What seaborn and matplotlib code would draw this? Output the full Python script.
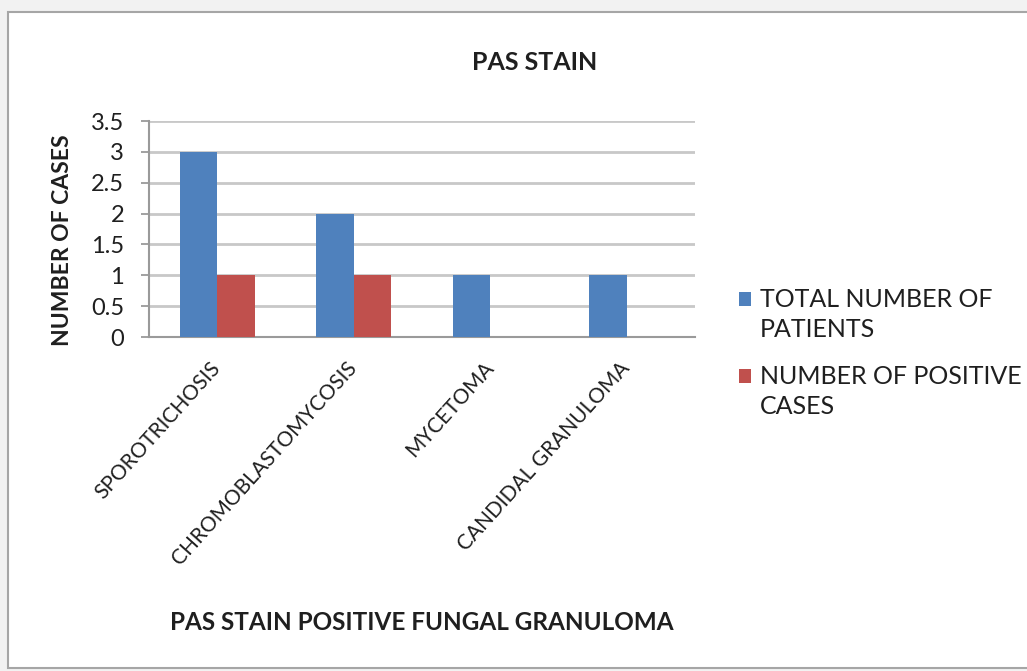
import matplotlib
matplotlib.use("Agg")
import matplotlib.pyplot as plt
from matplotlib.patches import Rectangle
from matplotlib.legend_handler import HandlerPatch
import seaborn as sns
import pandas as pd

# Data
diseases = ["SPOROTRICHOSIS", "CHROMOBLASTOMYCOSIS", "MYCETOMA", "CANDIDAL GRANULOMA"]
total_patients = [3, 2, 1, 1]
positive_cases = [1, 1, 0, 0]
series_names = ["TOTAL NUMBER OF PATIENTS", "NUMBER OF POSITIVE CASES"]
legend_labels = ["TOTAL NUMBER OF\nPATIENTS", "NUMBER OF POSITIVE\nCASES"]
y_ticks = [0, 0.5, 1, 1.5, 2, 2.5, 3, 3.5]
y_tick_labels = ["0", "0.5", "1", "1.5", "2", "2.5", "3", "3.5"]

df = pd.DataFrame({
    "disease": diseases * 2,
    "series": [series_names[0]] * len(diseases) + [series_names[1]] * len(diseases),
    "count": total_patients + positive_cases,
})

sns.set_theme(style="white")
plt.rcParams["font.family"] = ["Lato", "DejaVu Sans"]

TEXT = "#1f1f1f"
BLUE = "#4F81BD"
RED = "#C0504D"
LEGEND_SIZE = 18

fig = plt.figure(figsize=(10.27, 6.71), dpi=100)
fig.patch.set_facecolor("#f2f2f2")
# white chart area with a thin frame
frame = Rectangle((8 / 1027, 3 / 671), 1.2, 1 - 15 / 671,
                  transform=fig.transFigure, facecolor="white",
                  edgecolor="#a6a6a6", linewidth=1.5, zorder=-10)
fig.patches.append(frame)

ax = fig.add_axes([149 / 1027, 1 - 337 / 671, (695 - 149) / 1027, (337 - 121) / 671])
ax.set_facecolor("none")

sns.barplot(data=df, x="disease", y="count", hue="series", hue_order=series_names,
            palette=[BLUE, RED], width=0.55, saturation=1, linewidth=0,
            ax=ax, zorder=3)

ax.set_ylim(0, 3.5)
ax.set_yticks(y_ticks)
ax.set_yticklabels(y_tick_labels)
ax.yaxis.grid(True, color="#c8c8c8", linewidth=2.0, zorder=0)
ax.set_axisbelow(True)
for s in ["top", "right"]:
    ax.spines[s].set_visible(False)
ax.spines["left"].set_color("#9a9a9a")
ax.spines["bottom"].set_color("#9a9a9a")
ax.spines["left"].set_linewidth(1.5)
ax.spines["bottom"].set_linewidth(1.5)
ax.tick_params(axis="y", which="major", left=True, length=6, width=1.3,
               color="#9a9a9a", labelsize=17, labelcolor=TEXT, pad=12)
ax.tick_params(axis="x", bottom=False, labelsize=15, labelcolor=TEXT, pad=14)
for lbl in ax.get_xticklabels():
    lbl.set_rotation(48)
    lbl.set_ha("right")
    lbl.set_va("center")
    lbl.set_rotation_mode("anchor")

ax.set_xlabel("PAS STAIN POSITIVE FUNGAL GRANULOMA", fontsize=17.5, fontweight="bold",
              color=TEXT, labelpad=30)
ax.set_ylabel("NUMBER OF CASES", fontsize=16.5, fontweight="bold", color=TEXT)
ax.yaxis.set_label_coords(-0.14, 0.45)
fig.text(535 / 1027, 1 - 62 / 671, "PAS STAIN", fontsize=18, fontweight="bold",
         color=TEXT, ha="center", va="center")


# legend keys sit beside the first line of each two-line label
def first_line_key(legend, orig_handle, xdescent, ydescent, width, height, fontsize):
    shift = 0.65 * fontsize
    return Rectangle((-xdescent, -ydescent + shift), width, height)


handles, _ = ax.get_legend_handles_labels()
if ax.get_legend() is not None:
    ax.get_legend().remove()
leg = fig.legend(handles, legend_labels, loc="upper left",
                 bbox_to_anchor=(716 / 1027, 1 - 265 / 671), frameon=False,
                 fontsize=LEGEND_SIZE, labelcolor=TEXT, handlelength=0.5,
                 handleheight=0.5, handletextpad=0.35, labelspacing=0.95,
                 handler_map={Rectangle: HandlerPatch(patch_func=first_line_key)})
for t in leg.get_texts():
    t.set_linespacing(1.4)

fig.savefig("out.png", dpi=100, facecolor=fig.get_facecolor())
